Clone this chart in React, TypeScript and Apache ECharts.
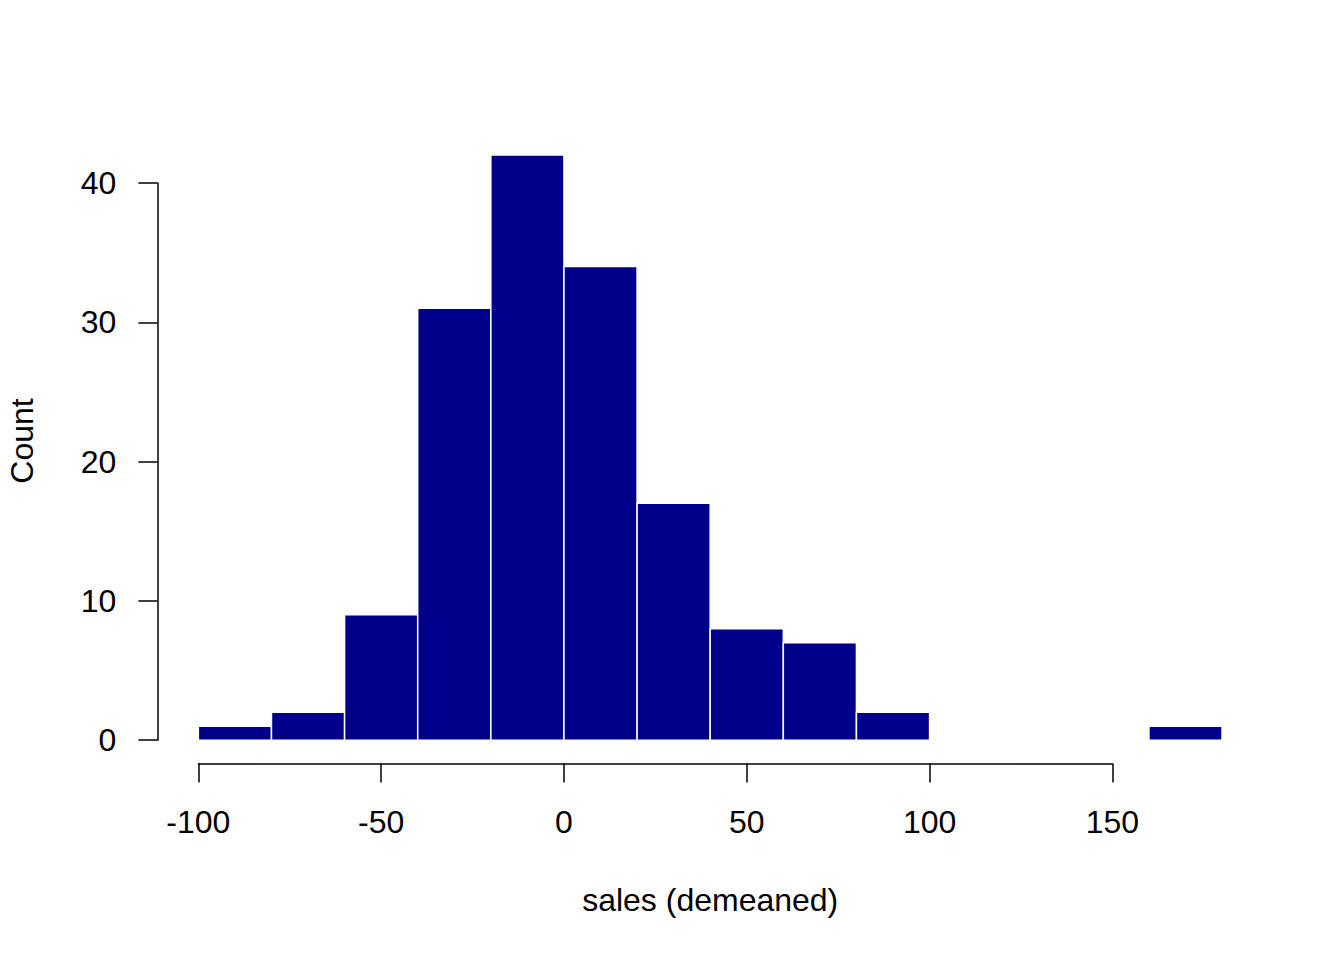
import React, { useEffect, useRef } from "react";
import * as echarts from "echarts";

const binStarts = [-100, -80, -60, -40, -20, 0, 20, 40, 60, 80, 100, 120, 140, 160];
const binEnds = [-80, -60, -40, -20, 0, 20, 40, 60, 80, 100, 120, 140, 160, 180];
const counts = [1, 2, 9, 31, 42, 34, 17, 8, 7, 2, 0, 0, 0, 1];

const xTickMin = -100;
const xTickMax = 150;
const xTickStep = 50;
const yTickMin = 0;
const yTickMax = 40;
const yTickStep = 10;

const xTitle = "sales (demeaned)";
const yTitle = "Count";

const FONT = "'Liberation Sans', Arial, Helvetica, sans-serif";
const FS = 32;

export default function App() {
  const ref = useRef<HTMLDivElement>(null);
  useEffect(() => {
    if (!ref.current) return;
    const chart = echarts.init(ref.current, null, { renderer: "svg" });

    // R-style limits: range of breaks extended by 4%
    const xr = binEnds[binEnds.length - 1] - binStarts[0];
    const xMin = binStarts[0] - 0.04 * xr;
    const xMax = binEnds[binEnds.length - 1] + 0.04 * xr;
    const yTop = Math.max(...counts);
    const yMin = -0.04 * yTop;
    const yMax = yTop + 0.04 * yTop;

    const W = 1344;
    const H = 960;
    const plotLeft = 157.4;
    const plotRight = 1263;
    const plotTop = 131.7;
    const plotBottom = 763.6;
    const xScale = (plotRight - plotLeft) / (xMax - xMin);
    const yScale = (plotBottom - plotTop) / (yMax - yMin);
    const xPix = (v: number) => plotLeft + (v - xMin) * xScale;
    const yPix = (v: number) => plotBottom - (v - yMin) * yScale;

    const data = binStarts.map((s, i) => [s, binEnds[i], counts[i]]);

    const axisLineStyle = { color: "#000", width: 1.5 };

    chart.setOption({
      animation: false,
      backgroundColor: "#fff",
      grid: [
        { left: plotLeft, right: W - plotRight, top: plotTop, bottom: H - plotBottom },
        { left: xPix(xTickMin), right: W - xPix(xTickMax), top: plotTop, bottom: H - plotBottom },
        { left: plotLeft, right: W - plotRight, top: yPix(yTickMax), bottom: H - yPix(yTickMin) },
      ],
      xAxis: [
        { type: "value", gridIndex: 0, min: xMin, max: xMax, show: false },
        {
          type: "value",
          gridIndex: 1,
          min: xTickMin,
          max: xTickMax,
          interval: xTickStep,
          position: "bottom",
          axisLine: { show: true, lineStyle: axisLineStyle },
          axisTick: { show: true, length: 19, inside: false, lineStyle: axisLineStyle },
          axisLabel: {
            show: true,
            margin: 42,
            color: "#000",
            fontSize: FS,
            fontFamily: FONT,
            lineHeight: FS,
            showMinLabel: true,
            showMaxLabel: true,
          },
          splitLine: { show: false },
        },
        { type: "value", gridIndex: 2, min: 0, max: 1, show: false },
      ],
      yAxis: [
        { type: "value", gridIndex: 0, min: yMin, max: yMax, show: false },
        { type: "value", gridIndex: 1, min: 0, max: 1, show: false },
        {
          type: "value",
          gridIndex: 2,
          min: yTickMin,
          max: yTickMax,
          interval: yTickStep,
          position: "left",
          axisLine: { show: true, lineStyle: axisLineStyle },
          axisTick: { show: true, length: 19, inside: false, lineStyle: axisLineStyle },
          axisLabel: {
            show: true,
            margin: 41,
            color: "#000",
            fontSize: FS,
            fontFamily: FONT,
            showMinLabel: true,
            showMaxLabel: true,
          },
          splitLine: { show: false },
        },
      ],
      series: [
        {
          type: "custom",
          xAxisIndex: 0,
          yAxisIndex: 0,
          data,
          encode: { x: [0, 1], y: 2 },
          renderItem: (params: any, api: any) => {
            const x0 = api.value(0);
            const x1 = api.value(1);
            const c = api.value(2);
            const p0 = api.coord([x0, c]);
            const p1 = api.coord([x1, 0]);
            return {
              type: "rect",
              shape: { x: p0[0], y: p0[1], width: p1[0] - p0[0], height: p1[1] - p0[1] },
              style: { fill: "#00008B", stroke: "#ffffff", lineWidth: 1.5 },
            };
          },
        },
      ],
      graphic: [
        {
          type: "text",
          x: (plotLeft + plotRight) / 2,
          y: 900,
          style: {
            text: xTitle,
            fill: "#000",
            font: `${FS}px ${FONT}`,
            align: "center",
            verticalAlign: "middle",
          },
        },
        {
          type: "text",
          x: 22,
          y: 441,
          rotation: Math.PI / 2,
          style: {
            text: yTitle,
            fill: "#000",
            font: `${FS}px ${FONT}`,
            align: "center",
            verticalAlign: "middle",
          },
        },
      ],
    });
    return () => chart.dispose();
  }, []);
  return (
    <div
      ref={ref}
      style={{ position: "absolute", left: 0, top: 0, width: 1344, height: 960, background: "#fff" }}
    />
  );
}
